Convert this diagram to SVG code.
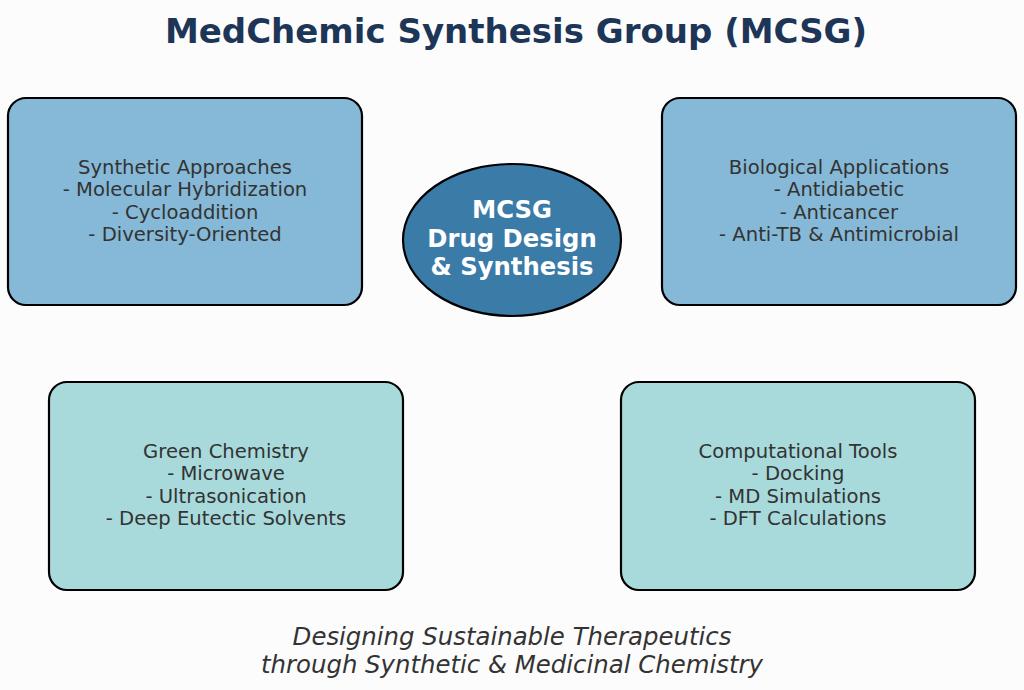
<svg xmlns="http://www.w3.org/2000/svg" width="1024" height="690" viewBox="0 0 1024 690">
<style>
.box{stroke:#000;stroke-width:2.2}
.blue{fill:#85b9d7}
.teal{fill:#a8dadc}
.lbl{font-family:"DejaVu Sans",sans-serif;font-size:19.6px;fill:#333;text-anchor:middle}
.ctr{font-family:"DejaVu Sans",sans-serif;font-size:24.3px;font-weight:bold;fill:#fff;text-anchor:middle}
.title{font-family:"DejaVu Sans",sans-serif;font-size:34px;font-weight:bold;fill:#1d3557;text-anchor:middle}
.foot{font-family:"DejaVu Sans",sans-serif;font-size:24.4px;font-style:italic;fill:#333;text-anchor:middle}
</style>
<rect width="1024" height="690" fill="#fcfcfc"/>
<text class="title" x="516" y="43">MedChemic Synthesis Group (MCSG)</text>
<g id="connectors"></g>
<g id="synthetic">
<rect class="box blue" x="8" y="98" width="354" height="207" rx="18"/>
<text class="lbl" x="185"><tspan x="185" y="174">Synthetic Approaches</tspan><tspan x="185" y="196">- Molecular Hybridization</tspan><tspan x="185" y="219">- Cycloaddition</tspan><tspan x="185" y="241">- Diversity-Oriented</tspan></text>
</g>
<g id="biological">
<rect class="box blue" x="662" y="98" width="354" height="207" rx="18"/>
<text class="lbl" x="839"><tspan x="839" y="174">Biological Applications</tspan><tspan x="839" y="196">- Antidiabetic</tspan><tspan x="839" y="219">- Anticancer</tspan><tspan x="839" y="241">- Anti-TB &amp; Antimicrobial</tspan></text>
</g>
<g id="green">
<rect class="box teal" x="49" y="382" width="354" height="208" rx="18"/>
<text class="lbl" x="226"><tspan x="226" y="458">Green Chemistry</tspan><tspan x="226" y="480">- Microwave</tspan><tspan x="226" y="503">- Ultrasonication</tspan><tspan x="226" y="525">- Deep Eutectic Solvents</tspan></text>
</g>
<g id="computational">
<rect class="box teal" x="621" y="382" width="354" height="208" rx="18"/>
<text class="lbl" x="798"><tspan x="798" y="458">Computational Tools</tspan><tspan x="798" y="480">- Docking</tspan><tspan x="798" y="503">- MD Simulations</tspan><tspan x="798" y="525">- DFT Calculations</tspan></text>
</g>
<g id="center">
<ellipse cx="512" cy="240" rx="109" ry="76" fill="#3b7ba8" stroke="#000" stroke-width="2.2"/>
<text class="ctr" x="512"><tspan x="512" y="218">MCSG</tspan><tspan x="512" y="247">Drug Design</tspan><tspan x="512" y="275">&amp; Synthesis</tspan></text>
</g>
<text class="foot" x="512"><tspan x="512" y="645">Designing Sustainable Therapeutics</tspan><tspan x="512" y="673">through Synthetic &amp; Medicinal Chemistry</tspan></text>
</svg>
